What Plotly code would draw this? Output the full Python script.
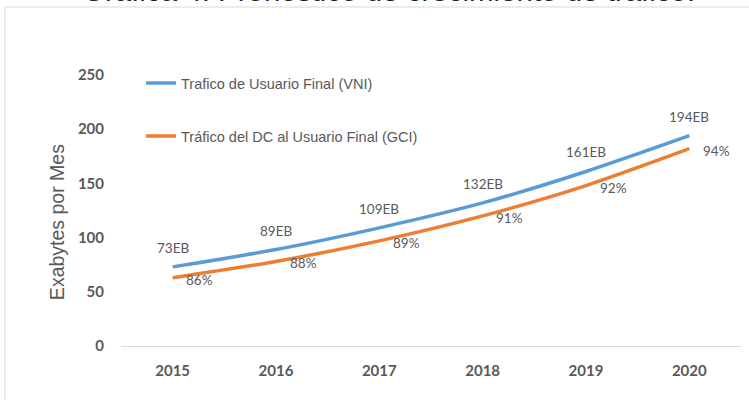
import plotly.graph_objects as go

years = ["2015", "2016", "2017", "2018", "2019", "2020"]
vni_values = [73, 89, 109, 132, 161, 194]
gci_values = [63, 78, 97, 120, 148, 182]
vni_labels = ["73EB", "89EB", "109EB", "132EB", "161EB", "194EB"]
gci_labels = ["86%", "88%", "89%", "91%", "92%", "94%"]
y_ticks = [0, 50, 100, 150, 200, 250]

series_names = ["Trafico de Usuario Final (VNI)", "Tráfico del DC al Usuario Final (GCI)"]
title_text = "Gráfica 4. Pronóstico de crecimiento de tráfico."
y_title = "Exabytes por Mes"

GREY = "#595959"
SANS = "Liberation Sans, Arial, sans-serif"
NUMF = "Lato, Carlito, Calibri, sans-serif"

fig = go.Figure()
fig.add_trace(go.Scatter(
    x=years, y=vni_values, mode="lines", name=series_names[0],
    line=dict(color="#5B9BD5", width=3.5, shape="spline", smoothing=0.8),
    legendgroup="a",
))
fig.add_trace(go.Scatter(
    x=years, y=gci_values, mode="lines", name=series_names[1],
    line=dict(color="#ED7D31", width=3.5, shape="spline", smoothing=0.8),
    legendgroup="b",
))

annotations = []
for i, (y, t) in enumerate(zip(vni_values, vni_labels)):
    annotations.append(dict(x=i, y=y, xref="x", yref="y", text=t, showarrow=False,
                            yshift=19, font=dict(family=NUMF, size=13.5, color=GREY)))
for i, (y, t) in enumerate(zip(gci_values, gci_labels)):
    annotations.append(dict(x=i, y=y, xref="x", yref="y", text=t, showarrow=False,
                            xshift=27, yshift=-2, font=dict(family=NUMF, size=13.5, color=GREY)))

# y axis title
annotations.append(dict(x=-0.103, y=0.4576, xref="paper", yref="paper", text=y_title,
                        textangle=-90, showarrow=False, xanchor="center", yanchor="middle",
                        font=dict(family=SANS, size=19.5, color=GREY)))
# partially visible title above the chart frame
annotations.append(dict(x=0.432, y=1.313, xref="paper", yref="paper", text=title_text,
                        showarrow=False, xanchor="center", yanchor="middle",
                        font=dict(family=SANS, size=29.5, color="#222222")))

fig.update_layout(
    width=749, height=400,
    margin=dict(l=121, r=8, t=75, b=54, autoexpand=False),
    paper_bgcolor="white", plot_bgcolor="white",
    showlegend=True,
    legend=dict(x=0.0323, y=1.029, xanchor="left", yanchor="top",
                bgcolor="rgba(0,0,0,0)", borderwidth=0,
                traceorder="grouped", tracegroupgap=31,
                font=dict(family=SANS, size=14.5, color=GREY)),
    annotations=annotations,
    shapes=[dict(type="rect", xref="paper", yref="paper",
                 x0=-0.1871, x1=1.03, y0=-0.273, y1=1.2509,
                 line=dict(color="#d9d9d9", width=1), fillcolor="rgba(0,0,0,0)", layer="below")],
)
fig.update_xaxes(
    type="category", range=[-0.5, 5.5], showgrid=False, showline=True,
    linecolor="#d9d9d9", linewidth=1,
    ticks="", ticklabelstandoff=11, zeroline=False, automargin=False,
    tickfont=dict(family=NUMF, size=15, color=GREY, weight="bold"),
)
fig.update_yaxes(
    range=[0, 250], tickvals=y_ticks, showgrid=False, showline=False, zeroline=False,
    ticks="", ticklabelstandoff=16, automargin=False,
    tickfont=dict(family=NUMF, size=15, color=GREY, weight="bold"),
)

fig.write_html("out.html", config={"displayModeBar": False},
               post_script="document.body.style.margin='0px';")
